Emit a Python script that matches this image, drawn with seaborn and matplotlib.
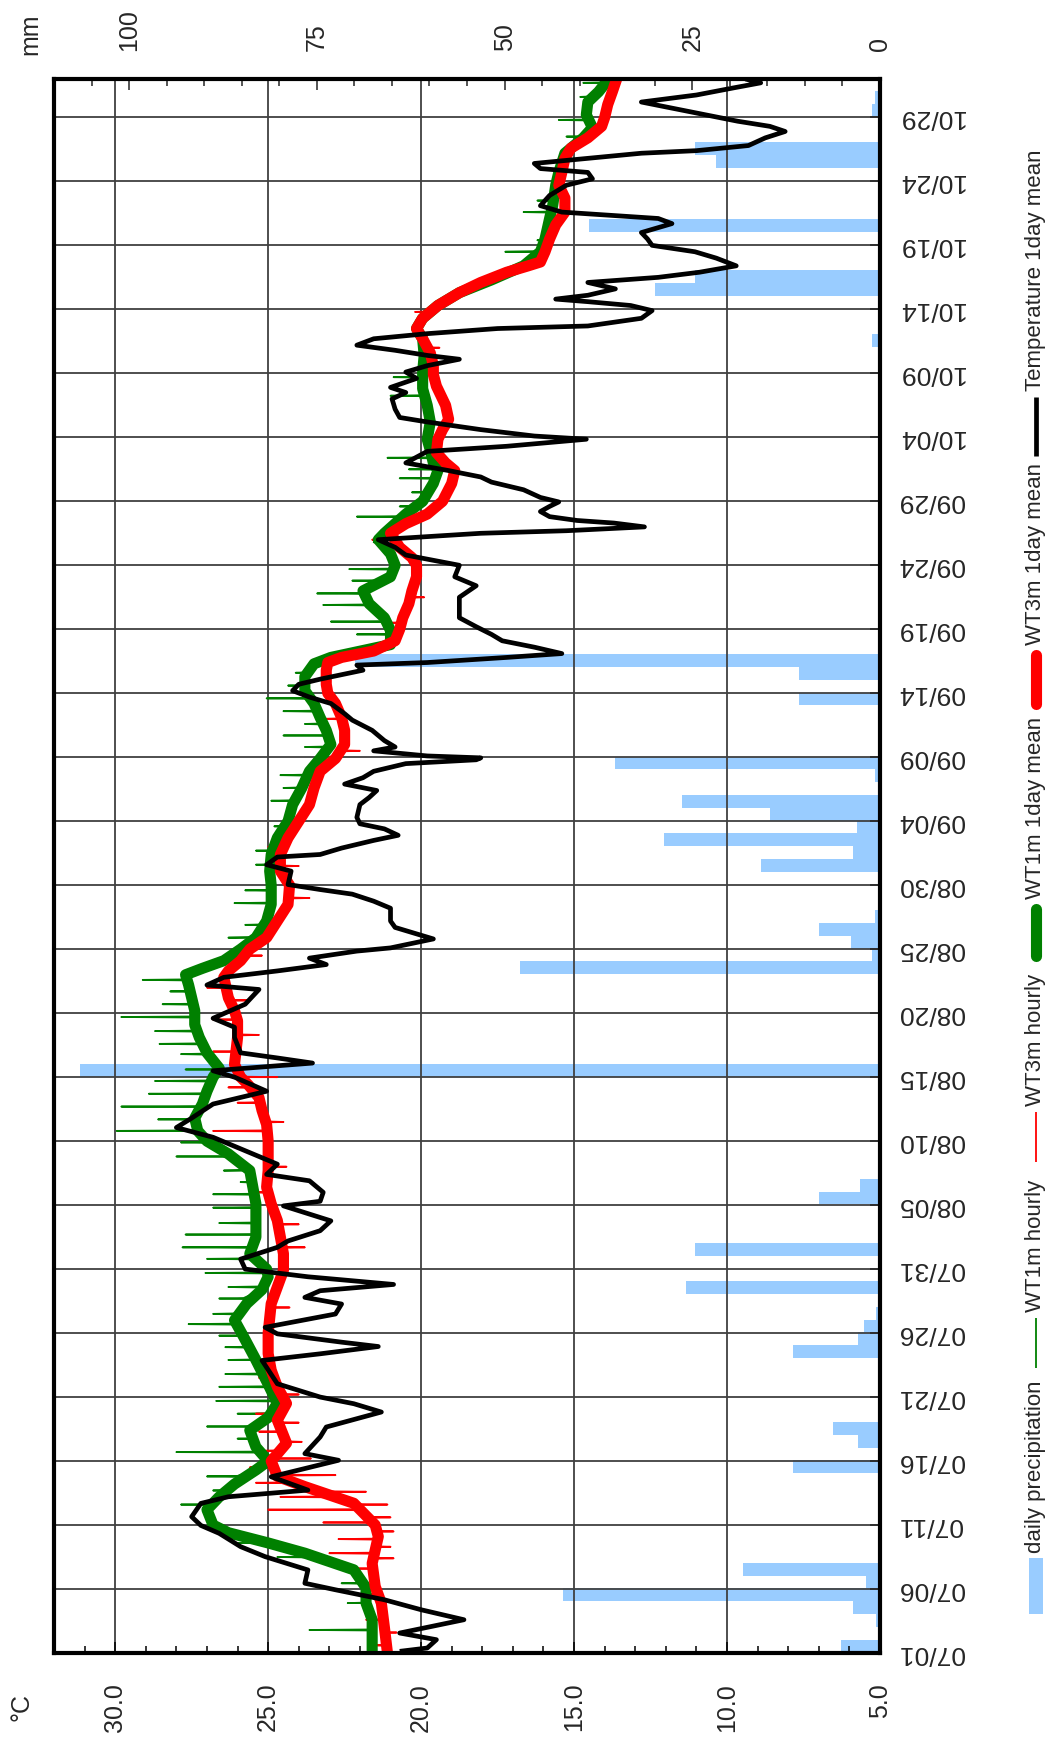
import numpy as np
import pandas as pd
import matplotlib
matplotlib.use("Agg")
import matplotlib.pyplot as plt
from matplotlib.ticker import MultipleLocator
from matplotlib.patches import Rectangle
from matplotlib.lines import Line2D
import seaborn as sns

# ---------------- data ----------------
# days are counted from 07/01 00:00
date_labels = ["07/01", "07/06", "07/11", "07/16", "07/21", "07/26", "07/31",
               "08/05", "08/10", "08/15", "08/20", "08/25", "08/30",
               "09/04", "09/09", "09/14", "09/19", "09/24", "09/29",
               "10/04", "10/09", "10/14", "10/19", "10/24", "10/29"]
temp_tick_values = [5.0, 10.0, 15.0, 20.0, 25.0, 30.0]
precip_tick_values = [0, 25, 50, 75, 100]

# daily precipitation (mm)
precip_day = [0, 2, 3, 4, 5, 6, 14, 16, 17, 23, 24, 25, 26, 28, 31, 35, 36, 45,
              53, 54, 55, 56, 57, 61, 62, 63, 64, 65, 66, 68, 69, 74, 76, 77,
              101, 102, 106, 107, 111, 116, 117, 120, 121]
precip_mm = [5.2, 0.5, 3.6, 42.2, 1.8, 18.3, 11.6, 2.9, 6.2, 11.6, 2.9, 2.1, 0.5,
             25.8, 24.7, 8.1, 2.7, 106.6, 47.9, 1.1, 3.9, 8.1, 0.7, 15.8, 3.6,
             28.8, 3.1, 14.7, 26.4, 0.7, 35.3, 10.8, 10.8, 69.9, 0.3, 1.1, 29.9,
             24.7, 38.7, 21.9, 24.7, 1.1, 0.6]

# air temperature, 1 day running mean (day, degC)
air_temp = [
    (0.13, 20.7), (0.39, 19.8), (1.04, 19.5), (1.56, 20.7), (2.6, 18.6), (3.38, 20.0),
    (4.16, 21.2), (4.94, 22.8), (5.45, 23.8), (6.49, 23.7), (7.53, 25.1), (8.31, 25.9),
    (9.35, 26.6), (9.97, 27.2), (10.65, 27.5), (11.69, 27.2), (12.21, 26.3), (12.73, 23.7),
    (13.77, 24.9), (15.06, 22.7), (15.58, 23.8), (16.88, 23.3), (17.66, 23.1), (18.83, 21.3),
    (19.48, 22.2), (20.0, 23.3), (21.04, 24.7), (22.86, 25.2), (23.38, 23.3), (23.95, 21.4),
    (24.29, 22.6), (24.94, 24.7), (25.45, 25.1), (26.49, 22.8), (27.27, 22.6), (27.79, 23.8),
    (28.31, 23.3), (28.8, 20.9), (29.4, 23.7), (30.0, 25.75), (30.78, 25.9), (31.7, 24.7),
    (32.2, 24.35), (33.0, 23.3), (33.77, 22.95), (34.94, 24.5), (35.3, 23.3), (36.0, 23.2),
    (36.9, 23.65), (37.4, 25.05), (38.2, 24.7), (40.3, 26.8), (41.06, 28.0), (41.8, 27.5),
    (42.9, 26.8), (43.9, 25.05), (45.0, 26.1), (45.5, 26.8), (46.1, 23.55), (46.5, 24.7),
    (46.9, 25.9), (48.1, 26.1), (48.9, 26.1), (49.6, 26.8), (50.7, 25.75), (51.85, 25.3),
    (52.2, 27.0), (52.8, 26.45), (53.3, 24.7), (53.8, 23.1), (54.3, 23.65), (54.85, 22.1),
    (55.1, 21.0), (55.8, 19.6), (56.7, 20.85), (57.2, 21.0), (58.2, 21.0), (58.75, 21.55),
    (59.3, 22.25), (59.66, 23.3), (60.05, 24.35), (61.1, 24.25), (61.6, 25.05), (62.2, 24.7),
    (62.4, 23.3), (62.9, 22.6), (63.5, 21.55), (63.9, 20.75), (64.4, 21.2), (64.8, 22.0),
    (65.3, 22.1), (66.3, 22.0), (66.85, 21.7), (67.4, 21.45), (67.9, 22.5), (68.4, 21.9),
    (68.9, 21.55), (69.5, 20.5), (69.8, 18.2), (69.95, 18.05), (70.1, 19.8), (70.5, 21.55),
    (70.8, 20.85), (71.3, 21.2), (72.1, 21.6), (72.9, 22.25), (73.4, 22.5), (74.2, 22.95),
    (74.7, 23.65), (75.2, 24.2), (75.7, 24.0), (76.1, 23.3), (76.8, 21.9), (77.2, 22.1),
    (77.4, 19.8), (77.8, 17.2), (78.1, 15.4), (78.6, 16.3), (79.1, 17.35), (79.6, 17.7),
    (80.2, 18.2), (80.9, 18.75), (81.7, 18.75), (82.5, 18.75), (83.4, 18.2), (84.1, 18.9),
    (85.0, 18.75), (85.8, 20.5), (86.4, 20.85), (87.0, 21.4), (87.5, 18.05), (87.7, 15.25),
    (88.0, 12.7), (88.3, 13.7), (88.5, 14.9), (88.8, 15.8), (89.2, 16.1), (89.6, 15.8),
    (89.95, 15.5), (90.3, 16.1), (90.9, 16.65), (91.5, 17.7), (91.9, 18.05), (92.4, 19.1),
    (93.0, 20.5), (93.9, 19.8), (94.3, 17.2), (94.85, 14.6), (95.1, 16.3), (95.6, 18.05),
    (96.2, 19.8), (96.55, 20.7), (97.2, 20.85), (98.0, 20.95), (98.5, 20.5), (98.9, 21.0),
    (99.6, 20.15), (100.1, 20.5), (100.6, 19.8), (101.1, 18.75), (101.4, 19.8), (101.8, 20.85),
    (102.2, 22.1), (102.7, 21.55), (103.1, 19.8), (103.5, 17.5), (103.7, 14.55), (104.3, 12.8),
    (104.9, 12.45), (105.3, 13.15), (105.6, 14.55), (105.8, 15.6), (106.1, 14.55), (106.6, 13.65),
    (107.1, 14.55), (107.5, 12.25), (107.9, 10.9), (108.4, 9.7), (109.0, 10.35), (109.5, 11.05),
    (110.0, 12.45), (110.5, 12.6), (111.0, 12.8), (111.7, 11.8), (112.1, 12.25), (112.6, 15.4),
    (113.1, 16.1), (113.9, 15.8), (114.7, 15.25), (115.2, 14.4), (115.7, 14.55), (116.0, 16.1),
    (116.4, 16.3), (116.8, 14.55), (117.2, 12.8), (117.4, 11.0), (117.8, 9.3), (118.4, 8.75),
    (118.9, 8.1), (119.3, 8.6), (119.7, 9.65), (120.2, 10.7), (120.7, 11.75), (121.2, 12.8),
    (121.75, 11.0), (122.3, 9.8), (122.7, 8.9), (123.0, 9.4),
]

# water temperature at 1 m, 1 day mean
wt1m_mean = [
    (0, 21.6), (2.6, 21.6), (3.9, 21.8), (5.1, 21.8), (6.5, 22.2), (7.8, 23.8), (8.6, 25.0),
    (9.4, 26.3), (10, 26.8), (11.2, 27.0), (12.2, 26.6), (13.2, 26.1), (14.3, 25.4), (15, 25.0),
    (16.1, 25.4), (17.4, 25.6), (18.4, 25.0), (19.5, 24.7), (21, 25.0), (22.9, 25.4), (24.7, 25.8),
    (26, 26.1), (27.3, 25.7), (28.4, 25.2), (29.4, 25.0), (30, 25.05), (31.2, 25.6), (32.5, 25.4),
    (33.8, 25.4), (35.1, 25.4), (36.4, 25.5), (37.7, 25.6), (39.0, 26.3), (40, 27.0), (40.8, 27.3),
    (41.8, 27.4), (42.9, 27.15), (43.9, 27.0), (45, 26.8), (45.7, 26.6), (46.9, 27.0),
    (48.1, 27.25), (49.1, 27.4), (50.2, 27.4), (51.2, 27.5), (52.2, 27.6), (53.0, 27.7),
    (53.5, 27.15), (54.1, 26.45), (55, 25.9), (55.9, 25.4), (57.2, 25.05), (58.5, 24.9), (60, 24.9),
    (61.1, 24.95), (62.4, 24.9), (63.7, 24.7), (65.0, 24.35), (66.3, 24.2), (67.6, 23.9),
    (68.9, 23.65), (69.9, 23.3), (71.0, 22.95), (72.1, 23.1), (73.1, 23.3), (74.2, 23.5),
    (75.2, 23.8), (76.3, 23.8), (77.3, 23.5), (77.8, 22.95), (78.8, 21.0), (79.9, 21.0),
    (80.9, 21.2), (82.0, 21.7), (83.0, 21.9), (84.1, 21.0), (85.0, 20.85), (85.9, 21.0),
    (87.0, 21.4), (87.5, 21.2), (88.25, 20.85), (89.0, 20.5), (90.0, 19.95), (91.4, 19.6),
    (92.4, 19.45), (93.0, 19.6), (94.0, 19.7), (94.85, 19.8), (96.2, 19.7), (97.5, 19.8),
    (98.8, 19.95), (100.1, 19.95), (101.4, 19.9), (102.7, 19.95), (103.5, 20.15), (104.3, 19.95),
    (105.3, 19.45), (106.3, 18.75), (107.3, 17.7), (108.4, 16.65), (109.5, 16.1), (110.5, 15.95),
    (112.1, 15.8), (113.1, 15.7), (114.7, 15.6), (115.7, 15.5), (117.2, 15.3), (118.4, 14.7),
    (119.2, 14.4), (120.2, 14.6), (121.2, 14.55), (122.0, 14.2), (123.05, 13.85),
]

# water temperature at 3 m, 1 day mean
wt3m_mean = [
    (0, 21.1), (2, 21.2), (3.9, 21.3), (5.2, 21.5), (7, 21.6), (9.1, 21.4), (10, 21.5),
    (11.7, 22.2), (13, 23.8), (13.8, 24.7), (15, 24.9), (16.4, 24.4), (18.2, 24.7), (19.5, 24.4),
    (20.8, 24.7), (22.1, 24.9), (23.4, 25.0), (25, 25.0), (27.3, 24.9), (29.9, 24.5), (31.2, 24.5),
    (32.5, 24.6), (33.8, 24.7), (35.1, 24.9), (36.4, 25.05), (37.7, 25.0), (39.0, 25.0),
    (40.0, 25.0), (41.3, 25.05), (42.4, 25.2), (43.4, 25.3), (44.4, 25.65), (45, 25.9), (46, 26.1),
    (48.1, 26.0), (49.4, 26.0), (50.2, 26.1), (51.2, 26.3), (52.8, 26.45), (53.3, 26.3),
    (54.1, 25.9), (55, 25.6), (55.9, 25.05), (57.2, 24.7), (58.5, 24.35), (60, 24.3), (61.1, 24.6),
    (62.4, 24.6), (63.7, 24.35), (65.0, 24.0), (66.3, 23.65), (67.6, 23.5), (68.9, 23.3),
    (69.9, 22.8), (71.0, 22.5), (72.1, 22.5), (73.1, 22.6), (74.2, 22.8), (75.0, 23.05),
    (75.7, 23.1), (76.8, 23.1), (77.4, 23.05), (77.8, 22.6), (78.3, 21.55), (79.1, 20.85),
    (80.0, 20.7), (80.9, 20.6), (82.0, 20.4), (83.0, 20.3), (84.1, 20.15), (85.0, 20.15),
    (85.6, 20.3), (86.4, 20.7), (87.5, 21.0), (88.25, 20.5), (89.0, 19.8), (90, 19.3),
    (91.4, 19.0), (92.4, 18.9), (93.0, 19.2), (93.8, 19.5), (94.85, 19.45), (95.6, 19.3),
    (96.4, 19.1), (97.5, 19.2), (98.25, 19.35), (99.0, 19.5), (99.9, 19.6), (100.6, 19.6),
    (101.6, 19.7), (102.7, 19.95), (103.5, 20.15), (104.3, 19.95), (105.3, 19.45), (106.3, 18.75),
    (107.1, 18.05), (107.9, 17.2), (108.4, 16.5), (108.7, 16.1), (109.5, 15.95), (110.5, 15.8),
    (111.6, 15.6), (112.6, 15.3), (113.7, 15.3), (114.7, 15.5), (115.7, 15.4), (116.8, 15.3),
    (117.6, 15.1), (118.4, 14.55), (119.3, 14.1), (120, 14.0), (121.0, 13.9), (122.0, 13.75),
    (123.05, 13.6),
]

# hourly excursions (day, value before/after, hourly value)
wt1m_spikes = [
    (1.8, 21.6, 23.65), (3.9, 21.8, 22.4), (5.45, 21.9, 22.6), (7.5, 23.4, 24.7), (8.6, 25.0, 26.0),
    (11.6, 26.9, 27.85), (12.7, 26.3, 26.8), (13.8, 26.0, 27.0), (15.7, 25.2, 28.0),
    (16.75, 25.5, 26.0), (17.7, 25.5, 27.0), (18.7, 25.0, 26.0), (19.7, 24.8, 26.7),
    (20.8, 25.0, 26.6), (21.8, 25.2, 26.4), (22.9, 25.4, 26.3), (23.9, 25.6, 26.4),
    (24.8, 25.8, 26.6), (25.7, 26.0, 27.6), (26.5, 26.0, 26.8), (27.7, 25.8, 26.6),
    (28.6, 25.3, 26.3), (29.7, 25.0, 27.05), (30.8, 25.5, 27.0), (31.7, 25.5, 27.8),
    (32.7, 25.4, 27.7), (33.6, 25.4, 26.6), (34.8, 25.4, 26.8), (35.85, 25.4, 26.8),
    (36.8, 25.5, 25.9), (37.7, 25.6, 26.45), (38.8, 26.1, 28.0), (39.9, 27.0, 27.85),
    (40.8, 27.3, 29.95), (41.7, 27.4, 28.6), (42.7, 27.2, 29.8), (43.7, 27.0, 28.9),
    (44.7, 26.85, 28.7), (45.6, 26.65, 27.7), (46.8, 27.0, 27.85), (47.6, 27.2, 28.55),
    (48.6, 27.3, 28.7), (49.7, 27.4, 29.8), (50.7, 27.45, 28.45), (51.7, 27.55, 28.2),
    (52.6, 27.65, 29.1), (54.3, 26.3, 26.6), (55.9, 25.4, 26.3), (56.9, 25.1, 25.75),
    (58.6, 24.9, 26.1), (59.6, 24.9, 25.75), (61.6, 24.95, 25.4), (62.7, 24.85, 25.4),
    (64.6, 24.45, 24.8), (66.6, 24.15, 24.9), (67.6, 23.9, 24.5), (68.6, 23.7, 24.6),
    (70.8, 23.0, 23.8), (71.7, 23.0, 24.5), (72.6, 23.2, 23.8), (73.6, 23.4, 24.5),
    (74.6, 23.6, 25.05), (75.6, 23.8, 24.35), (76.6, 23.7, 24.1), (78.9, 21.0, 21.3),
    (79.6, 21.0, 22.1), (80.6, 21.1, 22.95), (81.9, 21.6, 23.2), (82.8, 21.9, 23.4),
    (83.8, 21.3, 22.25), (84.7, 20.9, 22.35), (86.8, 21.3, 21.55), (88.8, 20.5, 22.1),
    (89.6, 20.1, 20.7), (90.7, 19.7, 20.3), (91.8, 19.55, 20.7), (92.5, 19.45, 20.4),
    (93.4, 19.65, 21.1), (98.25, 19.85, 21.0), (99.7, 19.95, 20.9), (109.5, 16.1, 17.25),
    (110.4, 15.95, 16.2), (112.6, 15.75, 16.65), (113.5, 15.65, 16.2), (118.5, 14.7, 15.25),
    (119.8, 14.5, 15.5), (121.6, 14.45, 14.8), (122.7, 14.0, 14.7),
]

wt3m_spikes = [
    (0.6, 21.1, 21.6), (1.6, 21.2, 20.8), (2.6, 21.2, 21.8), (4.6, 21.4, 22.0), (6.6, 21.6, 22.2),
    (7.4, 21.6, 20.9), (7.8, 21.6, 23.0), (8.3, 21.5, 21.0), (8.9, 21.4, 22.7), (9.5, 21.4, 20.9),
    (10.2, 21.5, 23.2), (10.6, 21.6, 21.0), (11.2, 21.9, 25.0), (11.6, 22.1, 21.1),
    (12.2, 22.8, 24.6), (12.6, 23.2, 21.8), (13.3, 24.1, 25.4), (13.9, 24.7, 22.8),
    (14.5, 24.8, 25.6), (15.2, 24.8, 23.6), (15.8, 24.5, 25.4), (16.5, 24.4, 23.9),
    (17.3, 24.6, 25.3), (18.0, 24.7, 24.0), (18.7, 24.6, 25.4), (20.2, 24.5, 24.0),
    (21.5, 24.8, 25.3), (23.0, 25.0, 24.5), (27.0, 24.9, 24.3), (31.7, 24.5, 23.8),
    (33.5, 24.7, 24.0), (36.0, 25.0, 25.6), (38.0, 25.0, 24.4), (40.8, 25.0, 26.8),
    (41.5, 25.1, 24.5), (43.0, 25.3, 26.0), (44.2, 25.6, 26.3), (45.0, 25.9, 24.7),
    (47.0, 26.05, 26.8), (48.3, 26.0, 25.3), (49.5, 26.0, 26.8), (51.0, 26.25, 25.6),
    (52.0, 26.4, 27.0), (54.5, 25.8, 25.2), (59.0, 24.35, 23.65), (61.5, 24.65, 24.0),
    (63.0, 24.4, 25.0), (70.5, 22.6, 22.0), (73.0, 22.6, 23.2), (78.5, 21.3, 22.0),
    (80.5, 20.65, 21.2), (82.5, 20.35, 19.9), (87.0, 20.9, 21.6), (102.0, 19.8, 19.4),
    (104.8, 19.7, 20.2),
]


# ---------------- helpers ----------------
def series_frame(points):
    arr = np.asarray(points, dtype=float)
    return pd.DataFrame({"day": arr[:, 0], "value": arr[:, 1]})


def hourly_frame(points, spikes, half=0.04):
    days = [p[0] for p in points]
    vals = [p[1] for p in points]
    for d, base, peak in spikes:
        days += [d - half, d, d + half]
        vals += [base, peak, base]
    order = np.argsort(days, kind="stable")
    return pd.DataFrame({"day": np.asarray(days)[order], "value": np.asarray(vals)[order]})


BLUE = "#99ccff"
GREEN = "#008000"
RED = "#ff0000"
FONT = ["Liberation Sans", "DejaVu Sans"]

sns.set_style("white")
plt.rcParams["font.family"] = FONT

W, H = 1051, 1742
fig = plt.figure(figsize=(W / 100, H / 100), dpi=100)
ax = fig.add_axes([54 / W, 1 - 1653 / H, 826 / W, 1574 / H])
ax_p = ax.twiny()
ax_p.set_zorder(1)
ax.set_zorder(2)
ax.patch.set_visible(False)

# precipitation bars hanging from the right edge (top axis in mm)
bars = pd.DataFrame({"day": np.asarray(precip_day, dtype=float) + 0.55, "mm": precip_mm})
sns.barplot(data=bars, x="mm", y="day", orient="h", native_scale=True, width=1.0,
            color=BLUE, saturation=1, linewidth=0, errorbar=None, ax=ax_p)


def draw(df, color, lw, z, cap="butt"):
    sns.lineplot(data=df, x="value", y="day", orient="y", sort=False, estimator=None,
                 color=color, linewidth=lw, zorder=z, legend=False, ax=ax,
                 solid_capstyle=cap, solid_joinstyle="round")


draw(hourly_frame(wt1m_mean, wt1m_spikes), GREEN, 1.3, 2.0)
draw(hourly_frame(wt3m_mean, wt3m_spikes), RED, 1.3, 2.1)
draw(series_frame(wt1m_mean), GREEN, 8, 2.2)
draw(series_frame(wt3m_mean), RED, 8, 2.3)
draw(series_frame(air_temp), "black", 3.4, 2.4)

# temperature axis (bottom)
ax.set_xlim(32, 5)
ax.set_xticks(temp_tick_values, [f"{t:.1f}" for t in temp_tick_values], rotation=90)
ax.xaxis.set_minor_locator(MultipleLocator(1))
ax.tick_params(axis="x", which="both", direction="in", bottom=True, top=False,
               labelsize=18, pad=21.5, width=1.1, color="black")
ax.tick_params(axis="x", which="major", length=8)
ax.tick_params(axis="x", which="minor", length=5)
ax.set_xlabel("")

# date axis (right)
ax.set_ylim(0, 123)
ax.yaxis.tick_right()
ax.set_yticks(np.arange(0, 5 * len(date_labels), 5), date_labels, rotation=180,
              va="center", ha="left")
ax.tick_params(axis="y", which="major", direction="in", left=False, right=True,
               labelleft=False, labelright=True, labelsize=19, pad=13, length=7, width=1.1)
ax.set_ylabel("")

ax.grid(True, which="major", axis="both", color="#404040", linewidth=1.3)
for sp in ax.spines.values():
    sp.set_linewidth(3)
    sp.set_color("black")

# precipitation axis (top)
ax_p.set_xlim(110, 0)
ax_p.set_xticks(precip_tick_values, [str(v) for v in precip_tick_values], rotation=90)
ax_p.xaxis.set_minor_locator(MultipleLocator(5))
ax_p.tick_params(axis="x", which="both", direction="in", top=True, bottom=False,
                 labeltop=True, labelbottom=False, labelsize=18, pad=20, width=1.1)
ax_p.tick_params(axis="x", which="major", length=8)
ax_p.tick_params(axis="x", which="minor", length=5)
ax_p.set_xlabel("")
ax_p.set_ylabel("")
ax_p.grid(False)
for sp in ax_p.spines.values():
    sp.set_visible(False)
ax.set_ylim(0, 123)

# unit labels
fig.text(22 / W, 1 - 1707 / H, "°C", rotation=90, ha="center", va="center", fontsize=18)
fig.text(30 / W, 1 - 34 / H, "mm", rotation=90, ha="center", va="center", fontsize=18)


# legend, stacked along the right margin and read bottom to top
def fy(y):
    return 1 - y / H


LX = 1036
fig.add_artist(Rectangle((1029 / W, fy(1614)), 14 / W, 56 / H, transform=fig.transFigure,
                         facecolor=BLUE, edgecolor="none"))
legend_lines = [
    (1368, 1318, GREEN, 1.3, "butt"),
    (1162, 1112, RED, 1.3, "butt"),
    (956, 909, GREEN, 8, "round"),
    (704, 655, RED, 8, "round"),
    (456, 397, "black", 3.4, "butt"),
]
for y0, y1, c, lw, cap in legend_lines:
    fig.add_artist(Line2D([LX / W, LX / W], [fy(y0), fy(y1)], transform=fig.transFigure,
                          color=c, linewidth=lw, solid_capstyle=cap))
legend_texts = [
    (1553, "daily precipitation"),
    (1312, "WT1m hourly"),
    (1106, "WT3m hourly"),
    (899, "WT1m 1day mean"),
    (645, "WT3m 1day mean"),
    (391, "Temperature 1day mean"),
]
for yb, s in legend_texts:
    fig.text(LX / W, fy(yb), s, rotation=90, ha="center", va="bottom", fontsize=16)

fig.savefig("out.png", dpi=100, facecolor="white")
